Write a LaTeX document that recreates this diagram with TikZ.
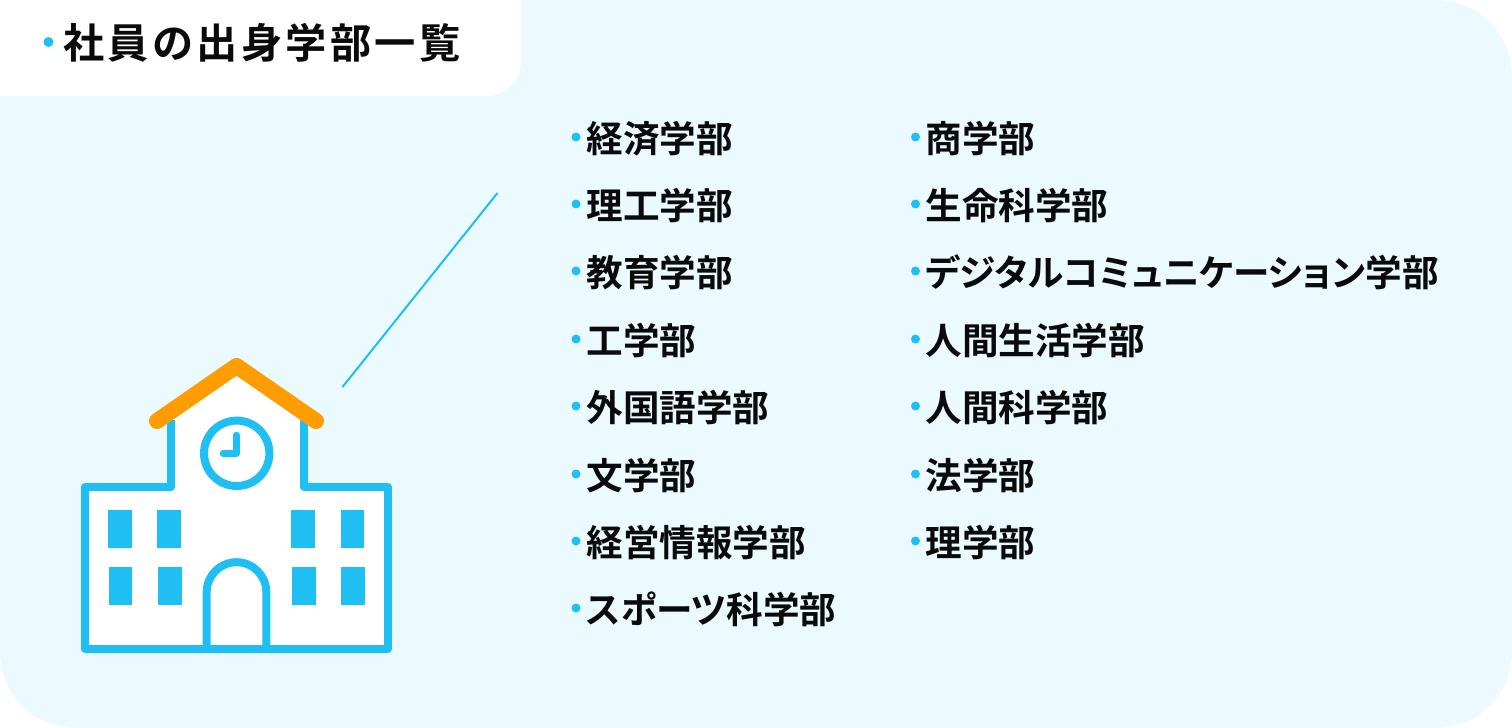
\documentclass[tikz,border=0pt]{standalone}
\usepackage{fontspec}
\setmainfont{Noto Sans CJK JP}[BoldFont={Noto Sans CJK JP Bold},RawFeature=+palt]
\newfontfamily\titlefont{Noto Sans CJK JP Bold}[LetterSpace=8]
\definecolor{skyc}{HTML}{1FBFF3}
\definecolor{panelc}{HTML}{EAFAFF}
\definecolor{roofc}{HTML}{FF9D00}
\definecolor{inkc}{HTML}{0A0A0A}
\newcommand{\listsize}{\fontsize{18.3pt}{20pt}\selectfont\bfseries}
\tikzset{
  x=0.5pt,y=-0.5pt,
  item/.style={anchor=west,inner sep=0pt,text=inkc,font=\listsize},
  titletext/.style={anchor=west,inner sep=0pt,text=inkc,font=\titlefont\fontsize{20.6pt}{22pt}\selectfont},
  dot/.style={circle,fill=skyc,draw=none,inner sep=0pt,minimum size=4.5pt},
  wall/.style={draw=skyc,line width=4pt,line join=round},
  win/.style={fill=skyc,draw=none},
}
\begin{document}
\begin{tikzpicture}
\useasboundingbox (0,0) rectangle (1512,728);
\fill[white] (0,0) rectangle (1512,728);
\fill[panelc] (0,652) -- (0,0) -- (1436,0) arc[start angle=90,end angle=0,radius=38pt] -- (1512,652) arc[start angle=0,end angle=-90,radius=38pt] -- (76,728) arc[start angle=-90,end angle=-180,radius=38pt] -- cycle;
\fill[white] (0,0) -- (521,0) -- (521,61) arc[start angle=0,end angle=-90,radius=17.5pt] -- (0,96) -- cycle;
\node[dot,minimum size=5pt] (t0) at (48.5,42) {};
\node[titletext] (title) at (63,43) {社員の出身学部一覧};
% building
\fill[white] (85,487) -- (171,487) -- (171,420) -- (236.5,366) -- (304,420) -- (304,487) -- (388,487) -- (388,649) -- (85,649) -- cycle;
\draw[wall] (171,420) -- (171,487) -- (85,487) -- (85,649) -- (388,649) -- (388,487) -- (304,487) -- (304,420);
\draw[wall] (206.7,649) -- (206.7,592) arc[start angle=180,end angle=0,radius=14.9pt] -- (266.3,649);
\draw[draw=roofc,line width=8pt,line cap=round,line join=round] (157,421) -- (236.5,366) -- (316,421);
\draw[wall] (236.7,453.3) circle[radius=16.35pt];
\draw[draw=skyc,line width=3.2pt,line cap=round,line join=round] (236.5,435) -- (236.5,453.5) -- (223,453.5);
\fill[win] (107.7,509.5) rectangle (131.7,548);
\fill[win] (157,509.5) rectangle (180.7,548);
\fill[win] (291.3,509.5) rectangle (315,548);
\fill[win] (340.7,509.5) rectangle (364.3,548);
\fill[win] (108.7,567) rectangle (132.3,605);
\fill[win] (157.7,567) rectangle (181.7,605);
\fill[win] (292.3,567) rectangle (316,605);
\fill[win] (341.3,567) rectangle (365,605);
% leader
\coordinate (leadA) at (342.5,387);
\coordinate (leadB) at (497.5,193);
\draw[skyc,line width=1pt] (leadA) -- (leadB);
% lists
\foreach \n/\y/\s in {a1/138.5/経済学部,a2/205.5/理工学部,a3/272.5/教育学部,a4/340.5/工学部,a5/407.5/外国語学部,a6/475.5/文学部,a7/542.5/経営情報学部,a8/609.5/スポーツ科学部}{
  \node[dot] (d\n) at (576,\y-1.5) {};
  \node[item] (\n) at (586,\y) {\s};
}
\foreach \n/\y/\s in {b1/138.5/商学部,b2/205.5/生命科学部,b3/272.5/デジタルコミュニケーション学部,b4/340.5/人間生活学部,b5/407.5/人間科学部,b6/475.5/法学部,b7/542.5/理学部}{
  \node[dot] (d\n) at (915.5,\y-1.5) {};
  \node[item] (\n) at (925,\y) {\s};
}
\end{tikzpicture}
\end{document}
